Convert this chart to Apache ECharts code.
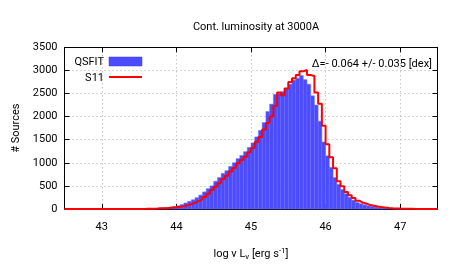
<!DOCTYPE html>
<html><head><meta charset="utf-8">
<script src="https://cdn.jsdelivr.net/npm/echarts@6/dist/echarts.min.js"></script>
<style>html,body{margin:0;padding:0;background:#fff}#c{width:457px;height:274px}</style>
</head><body><div id="c"></div>
<script>
const binStart = 42.5;
const binWidth = 0.05;
const qsfit = [
 0,0,0,0,0,0,0,0,0,0,
 1,1,1,1,2,2,2,3,3,3,
 3,4,6,9,13,18,25,33,42,55,
 70,95,130,165,200,245,300,370,440,500,
 600,680,770,830,920,1000,1090,1160,1240,1330,
 1430,1560,1700,1870,2110,2270,2480,2500,2540,2610,
 2700,2790,2830,2890,2800,2700,2450,2250,1900,1450,
 1150,900,680,530,420,330,250,190,140,115,
 90,70,55,40,30,22,16,12,8,6,
 4,3,2,2,1,1,1,0,0,0
];
const s11 = [
 0,0,0,0,0,0,0,0,0,0,
 1,1,1,1,1,2,2,2,2,2,
 2,3,5,7,10,14,18,24,32,40,
 50,62,80,105,135,170,210,260,330,410,
 480,560,650,720,810,890,990,1060,1130,1230,
 1320,1450,1560,1720,1860,2000,2230,2520,2460,2610,
 2750,2830,2900,2980,3010,2900,2880,2520,2280,1800,
 1400,1120,880,600,490,370,300,240,180,140,
 115,85,70,55,42,32,24,18,13,9,
 6,4,3,2,2,1,1,1,0,0
];
const xTicks = [43,44,45,46,47];
const yTicks = [0,500,1000,1500,2000,2500,3000,3500];
const titleText = 'Cont. luminosity at 3000A';
const annotation = 'Δ=- 0.064 +/- 0.035 [dex]';

const edges = qsfit.map((_, i) => +(binStart + binWidth * i).toFixed(3));
const barData = qsfit.map((v, i) => [edges[i], edges[i] + binWidth, v]);
const stepData = s11.map((v, i) => [edges[i], v]);
stepData.push([+(binStart + binWidth * s11.length).toFixed(3), s11[s11.length - 1]]);

const font = 'Roboto, "Liberation Sans", sans-serif';
const chart = echarts.init(document.getElementById('c'), null, {renderer: 'canvas'});
const lineCommon = {show: true, onZero: false, lineStyle: {color: '#000', width: 1}};
const tickCommon = {show: true, inside: true, length: 5, lineStyle: {color: '#000'}};
const gridLine = {show: true, lineStyle: {color: '#aaa', type: [1, 3], width: 1}};
chart.setOption({
  animation: false,
  backgroundColor: '#fff',
  title: {text: titleText, left: 251, textAlign: 'center', top: 17,
    textStyle: {fontFamily: font, fontSize: 11, fontWeight: 'normal', color: '#000'}},
  grid: {left: 64.5, right: 19.5, top: 47.3, bottom: 65},
  xAxis: [{
    type: 'value', min: 42.5, max: 47.5,
    axisLine: lineCommon,
    axisTick: {...tickCommon, customValues: xTicks},
    axisLabel: {fontFamily: font, fontSize: 11, color: '#000', margin: 13, customValues: xTicks,
      formatter: v => String(v)},
    splitLine: gridLine,
    name: '{n|log ν L}{s|ν}{n| [erg s}{p|-1}{n|]}', nameLocation: 'middle', nameGap: 38,
    nameTextStyle: {fontFamily: font, color: '#000', rich: {
      n: {fontFamily: font, fontSize: 11, color: '#000'},
      s: {fontFamily: font, fontSize: 8, color: '#000', padding: [6, 0, 0, 0]},
      p: {fontFamily: font, fontSize: 8, color: '#000', padding: [0, 0, 6, 0]}
    }}
  }, {
    type: 'value', min: 42.5, max: 47.5, position: 'top',
    axisLine: lineCommon, axisTick: {...tickCommon, customValues: xTicks},
    axisLabel: {show: false, customValues: xTicks}, splitLine: {show: false}
  }],
  yAxis: [{
    type: 'value', min: 0, max: 3500, interval: 500,
    axisLine: lineCommon, axisTick: tickCommon,
    axisLabel: {fontFamily: font, fontSize: 11, color: '#000', margin: 7,
      formatter: v => yTicks.includes(v) ? String(v) : ''},
    splitLine: gridLine,
    name: '# Sources', nameLocation: 'middle', nameGap: 40, nameRotate: 90,
    nameTextStyle: {fontFamily: font, fontSize: 11, color: '#000'}
  }, {
    type: 'value', min: 0, max: 3500, interval: 500, position: 'right',
    axisLine: lineCommon, axisTick: tickCommon, axisLabel: {show: false}, splitLine: {show: false}
  }],
  series: [{
    name: 'QSFIT', type: 'custom',
    data: barData,
    encode: {x: [0, 1], y: 2},
    renderItem: function (params, api) {
      const p0 = api.coord([api.value(0), api.value(2)]);
      const p1 = api.coord([api.value(1), 0]);
      return {type: 'rect', shape: {x: p0[0], y: p0[1], width: p1[0] - p0[0], height: p1[1] - p0[1]},
        style: {fill: '#4b4bff', stroke: '#6a6aff', lineWidth: 0.5}};
    },
    z: 2
  }, {
    name: 'S11', type: 'line', step: 'end', data: stepData, symbol: 'none',
    lineStyle: {color: '#ff0000', width: 2}, z: 3
  }],
  graphic: [
    {type: 'text', x: 104, y: 62, style: {text: 'QSFIT', fontFamily: font, fontSize: 11, fill: '#000', align: 'right', verticalAlign: 'middle'}},
    {type: 'rect', x: 109, y: 57, shape: {x: 0, y: 0, width: 33, height: 9}, style: {fill: '#4b4bff', stroke: '#3a3aee', lineWidth: 0.5}},
    {type: 'text', x: 104, y: 78, style: {text: 'S11', fontFamily: font, fontSize: 11, fill: '#000', align: 'right', verticalAlign: 'middle'}},
    {type: 'line', shape: {x1: 109, y1: 77, x2: 142, y2: 77}, style: {stroke: '#ff0000', lineWidth: 2}},
    {type: 'text', x: 432, y: 64, style: {text: annotation, fontFamily: font, fontSize: 11, fill: '#000', align: 'right', verticalAlign: 'middle'}, z: 10}
  ]
});
</script></body></html>
